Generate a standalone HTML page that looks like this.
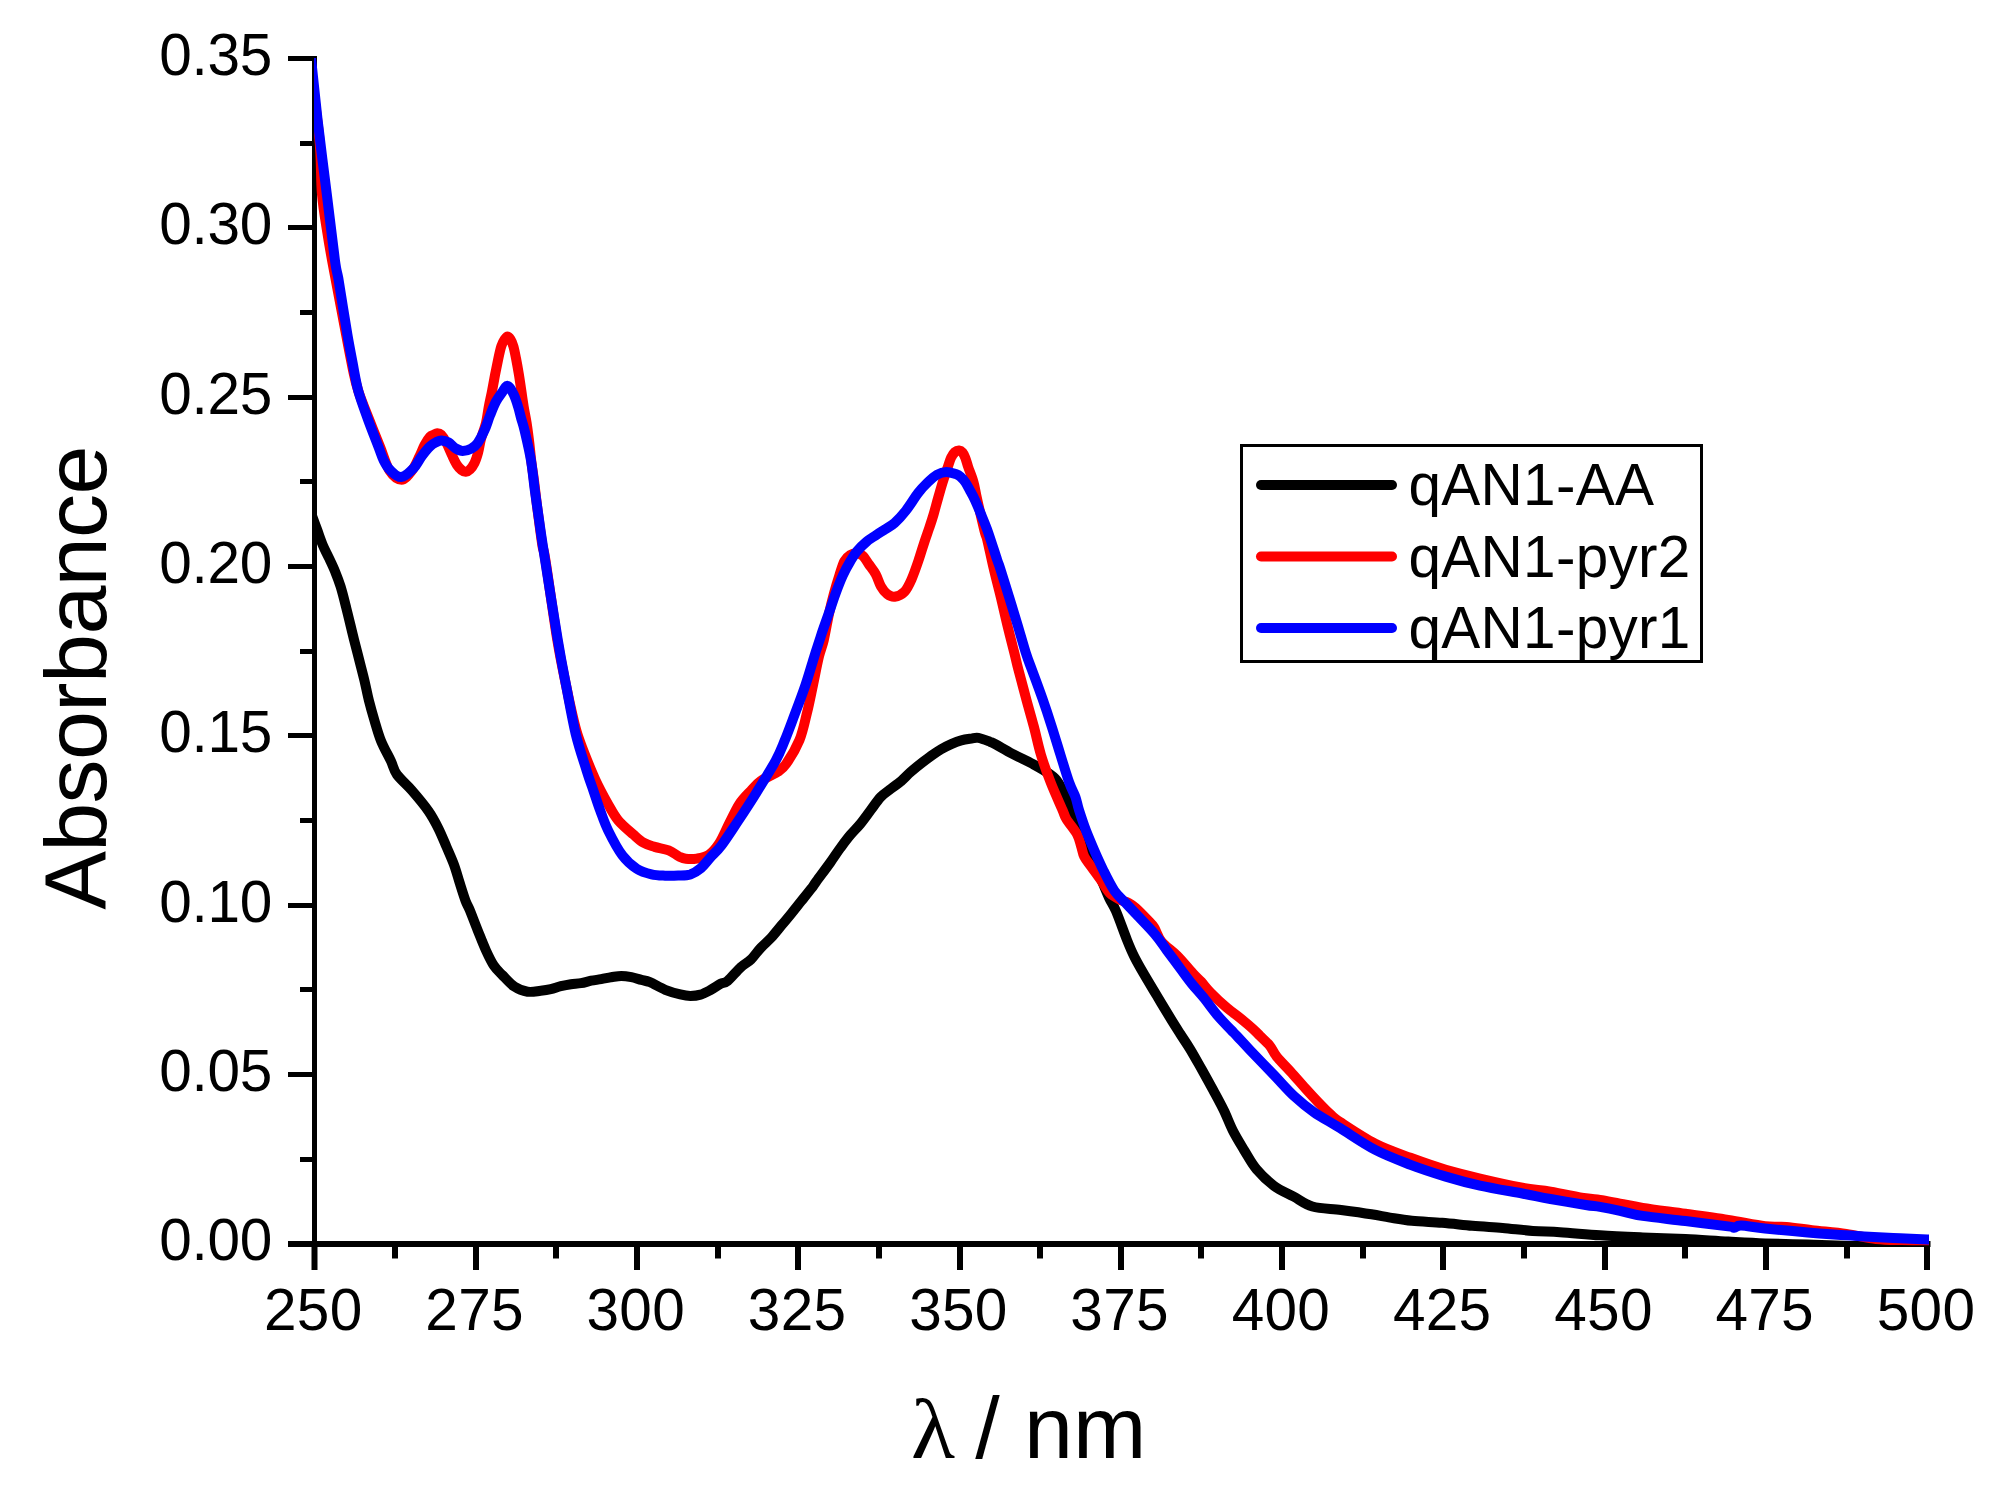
<!DOCTYPE html>
<html lang="en"><head><meta charset="utf-8"><title>Absorbance spectra</title>
<style>html,body{margin:0;padding:0;background:#fff;}body{width:1989px;height:1489px;overflow:hidden;}svg{display:block;}text{font-family:"Liberation Sans",sans-serif;fill:#000;}.tk{font-size:58.5px;letter-spacing:0.3px;}.tt{font-size:88px;}.lam{font-family:"Liberation Serif","DejaVu Serif",serif;}</style></head><body>
<svg width="1989" height="1489" viewBox="0 0 1989 1489">
<rect x="0" y="0" width="1989" height="1489" fill="#fff"/>
<defs><clipPath id="pc"><rect x="314" y="58" width="1615.0" height="1189.0"/></clipPath></defs>
<g stroke="#000" fill="none" stroke-linecap="butt">
<line x1="314.5" y1="56" x2="314.5" y2="1270" stroke-width="5"/>
<line x1="288" y1="1244.0" x2="1930.5" y2="1244.0" stroke-width="6"/>
<line x1="288.0" y1="1244.50" x2="314.5" y2="1244.50" stroke-width="5"/>
<line x1="300.0" y1="1159.50" x2="314.5" y2="1159.50" stroke-width="5"/>
<line x1="288.0" y1="1074.50" x2="314.5" y2="1074.50" stroke-width="5"/>
<line x1="300.0" y1="989.50" x2="314.5" y2="989.50" stroke-width="5"/>
<line x1="288.0" y1="905.50" x2="314.5" y2="905.50" stroke-width="5"/>
<line x1="300.0" y1="820.50" x2="314.5" y2="820.50" stroke-width="5"/>
<line x1="288.0" y1="735.50" x2="314.5" y2="735.50" stroke-width="5"/>
<line x1="300.0" y1="651.50" x2="314.5" y2="651.50" stroke-width="5"/>
<line x1="288.0" y1="566.50" x2="314.5" y2="566.50" stroke-width="5"/>
<line x1="300.0" y1="481.50" x2="314.5" y2="481.50" stroke-width="5"/>
<line x1="288.0" y1="397.50" x2="314.5" y2="397.50" stroke-width="5"/>
<line x1="300.0" y1="312.50" x2="314.5" y2="312.50" stroke-width="5"/>
<line x1="288.0" y1="227.50" x2="314.5" y2="227.50" stroke-width="5"/>
<line x1="300.0" y1="143.50" x2="314.5" y2="143.50" stroke-width="5"/>
<line x1="288.0" y1="58.50" x2="314.5" y2="58.50" stroke-width="5"/>
<line x1="314.50" y1="1244.0" x2="314.50" y2="1270.0" stroke-width="6"/>
<line x1="395.00" y1="1244.0" x2="395.00" y2="1258.5" stroke-width="6"/>
<line x1="476.00" y1="1244.0" x2="476.00" y2="1270.0" stroke-width="6"/>
<line x1="556.00" y1="1244.0" x2="556.00" y2="1258.5" stroke-width="6"/>
<line x1="637.00" y1="1244.0" x2="637.00" y2="1270.0" stroke-width="6"/>
<line x1="718.00" y1="1244.0" x2="718.00" y2="1258.5" stroke-width="6"/>
<line x1="798.00" y1="1244.0" x2="798.00" y2="1270.0" stroke-width="6"/>
<line x1="879.00" y1="1244.0" x2="879.00" y2="1258.5" stroke-width="6"/>
<line x1="960.00" y1="1244.0" x2="960.00" y2="1270.0" stroke-width="6"/>
<line x1="1040.00" y1="1244.0" x2="1040.00" y2="1258.5" stroke-width="6"/>
<line x1="1121.00" y1="1244.0" x2="1121.00" y2="1270.0" stroke-width="6"/>
<line x1="1201.00" y1="1244.0" x2="1201.00" y2="1258.5" stroke-width="6"/>
<line x1="1282.00" y1="1244.0" x2="1282.00" y2="1270.0" stroke-width="6"/>
<line x1="1363.00" y1="1244.0" x2="1363.00" y2="1258.5" stroke-width="6"/>
<line x1="1443.00" y1="1244.0" x2="1443.00" y2="1270.0" stroke-width="6"/>
<line x1="1524.00" y1="1244.0" x2="1524.00" y2="1258.5" stroke-width="6"/>
<line x1="1605.00" y1="1244.0" x2="1605.00" y2="1270.0" stroke-width="6"/>
<line x1="1685.00" y1="1244.0" x2="1685.00" y2="1258.5" stroke-width="6"/>
<line x1="1766.00" y1="1244.0" x2="1766.00" y2="1270.0" stroke-width="6"/>
<line x1="1847.00" y1="1244.0" x2="1847.00" y2="1258.5" stroke-width="6"/>
<line x1="1927.00" y1="1244.0" x2="1927.00" y2="1270.0" stroke-width="6"/>
</g>
<g clip-path="url(#pc)" fill="none" stroke-width="10" stroke-linejoin="round" stroke-linecap="round">
<path stroke="#000" d="M311.0 513.0C312.0 515.8 315.1 524.2 317.1 529.6C319.1 535.0 320.8 540.3 322.8 545.1C324.8 549.9 327.1 553.9 329.1 558.3C331.2 562.7 333.2 566.8 335.1 571.5C337.0 576.2 338.7 580.4 340.6 586.5C342.5 592.6 344.1 599.2 346.3 608.1C348.6 617.0 351.9 631.3 354.1 640.0C356.3 648.7 357.6 653.5 359.3 660.2C361.0 666.9 362.8 673.6 364.4 680.3C366.0 687.0 367.2 693.8 368.9 700.5C370.6 707.2 372.5 713.9 374.5 720.6C376.5 727.3 378.3 734.1 381.0 740.8C383.7 747.5 388.2 755.3 390.9 760.9C393.5 766.5 393.4 769.6 396.9 774.5C400.4 779.4 406.5 784.2 411.7 790.2C416.9 796.2 423.9 804.4 428.3 810.8C432.8 817.2 435.4 822.4 438.4 828.4C441.4 834.4 443.8 840.5 446.4 846.6C449.0 852.7 451.8 858.8 454.0 864.7C456.2 870.7 457.6 876.2 459.5 882.3C461.4 888.3 463.9 896.4 465.6 901.0C467.3 905.6 467.8 905.3 469.8 910.2C471.8 915.1 475.0 923.6 477.7 930.3C480.4 937.0 483.3 944.6 486.0 950.5C488.7 956.4 491.1 961.5 493.8 965.6C496.5 969.7 498.9 971.6 502.4 975.1C505.8 978.6 510.3 983.9 514.5 986.7C518.7 989.5 523.2 991.0 527.6 991.7C532.0 992.4 536.8 991.2 540.7 990.8C544.6 990.4 547.4 990.0 550.8 989.2C554.1 988.4 557.4 987.0 560.8 986.2C564.1 985.4 567.5 984.7 570.9 984.2C574.3 983.7 577.6 983.8 581.0 983.2C584.4 982.6 587.8 981.4 591.1 980.7C594.5 980.0 597.8 979.8 601.1 979.2C604.5 978.6 607.8 977.8 611.2 977.2C614.6 976.7 617.9 975.9 621.3 975.9C624.7 975.9 628.0 976.5 631.4 977.2C634.8 977.9 638.3 979.1 641.4 979.9C644.5 980.7 646.0 980.6 650.0 982.2C654.0 983.9 660.2 987.8 665.2 989.8C670.2 991.8 676.1 993.4 680.3 994.4C684.5 995.4 687.0 995.9 690.4 995.9C693.8 995.9 697.1 995.6 700.5 994.6C703.9 993.6 707.1 991.8 710.5 990.0C713.9 988.2 717.7 985.3 720.6 983.8C723.5 982.3 724.3 983.6 727.7 980.8C731.1 978.0 736.9 970.7 740.8 967.2C744.6 963.7 747.4 962.9 750.8 959.6C754.1 956.4 757.5 951.3 760.9 947.7C764.3 944.1 767.6 941.5 771.0 937.9C774.4 934.2 777.8 929.8 781.1 925.8C784.5 921.8 787.8 917.9 791.1 913.8C794.5 909.7 797.8 905.4 801.2 901.2C804.6 897.0 808.8 891.9 811.3 888.6C813.8 885.3 813.1 885.9 816.3 881.5C819.5 877.1 826.3 868.1 830.3 862.5C834.3 856.9 837.0 852.5 840.4 847.9C843.8 843.3 847.1 838.8 850.5 834.8C853.9 830.8 857.1 827.8 860.5 823.7C863.9 819.6 867.2 814.8 870.6 810.3C874.0 805.8 877.3 800.6 880.7 797.0C884.1 793.4 887.4 791.5 890.8 788.9C894.1 786.3 897.4 784.2 900.8 781.4C904.1 778.5 907.5 774.8 910.9 771.8C914.3 768.8 917.6 766.1 921.0 763.5C924.4 760.9 927.8 758.3 931.1 755.9C934.5 753.5 937.8 751.3 941.1 749.3C944.5 747.3 947.8 745.6 951.2 744.1C954.6 742.6 957.9 741.2 961.3 740.3C964.7 739.4 968.5 739.0 971.4 738.6C974.2 738.2 975.3 737.4 978.4 737.9C981.5 738.4 987.1 740.7 990.0 741.8C992.9 742.9 992.2 742.5 995.9 744.5C999.6 746.5 1006.0 750.4 1012.0 753.6C1018.0 756.8 1026.7 760.8 1032.2 763.7C1037.7 766.6 1041.0 768.3 1045.0 771.0C1049.0 773.7 1052.9 775.7 1056.4 780.0C1059.9 784.3 1063.5 791.9 1065.8 796.9C1068.1 801.9 1067.1 802.0 1070.5 810.0C1073.9 818.0 1080.8 833.2 1086.0 845.0C1091.2 856.8 1098.0 871.9 1101.8 880.7C1105.6 889.5 1106.8 892.8 1109.1 897.8C1111.4 902.8 1112.9 903.9 1115.9 910.9C1118.9 917.9 1123.9 932.2 1127.0 940.0C1130.1 947.8 1131.7 951.6 1134.7 957.5C1137.7 963.4 1141.1 969.2 1144.8 975.6C1148.5 982.0 1152.9 989.1 1156.9 995.8C1160.9 1002.5 1165.2 1009.6 1169.0 1015.9C1172.8 1022.2 1176.5 1028.0 1180.0 1033.5C1183.5 1039.0 1186.4 1043.0 1190.1 1049.1C1193.8 1055.2 1198.2 1063.2 1202.1 1070.0C1205.9 1076.8 1209.6 1083.5 1213.2 1090.2C1216.8 1096.9 1220.5 1103.6 1223.8 1110.3C1227.1 1117.0 1229.4 1123.8 1232.8 1130.5C1236.2 1137.2 1240.5 1144.1 1244.4 1150.6C1248.4 1157.0 1251.5 1163.3 1256.5 1169.2C1261.5 1175.1 1268.0 1181.4 1274.1 1185.9C1280.2 1190.4 1286.9 1193.0 1293.3 1196.4C1299.7 1199.8 1304.4 1204.2 1312.4 1206.5C1320.4 1208.8 1331.3 1208.7 1341.1 1210.0C1350.9 1211.3 1363.2 1213.0 1371.4 1214.3C1379.6 1215.6 1383.2 1216.5 1390.0 1217.6C1396.8 1218.7 1403.2 1219.9 1411.9 1220.8C1420.6 1221.7 1432.0 1222.0 1442.1 1222.8C1452.2 1223.6 1462.2 1224.9 1472.3 1225.8C1482.4 1226.7 1492.5 1227.1 1502.6 1227.9C1512.7 1228.8 1523.2 1230.2 1532.8 1230.9C1542.4 1231.6 1548.8 1231.5 1560.0 1232.2C1571.2 1232.9 1586.2 1234.4 1600.0 1235.3C1613.8 1236.2 1628.5 1236.8 1642.7 1237.4C1657.0 1238.0 1671.2 1238.4 1685.5 1239.1C1699.8 1239.8 1715.0 1240.9 1728.2 1241.6C1741.5 1242.3 1751.8 1242.9 1765.0 1243.4C1778.2 1243.9 1793.5 1244.2 1807.7 1244.6C1822.0 1245.0 1829.3 1245.6 1850.5 1245.9C1871.7 1246.2 1920.9 1246.4 1935.0 1246.5"/>
<path stroke="#f00" d="M306.5 40.0C308.6 56.0 316.5 110.4 319.1 136.0C321.7 161.6 320.5 177.2 321.9 193.4C323.3 209.6 325.7 221.9 327.4 233.0C329.1 244.1 329.5 246.4 332.0 260.0C334.5 273.6 338.8 296.0 342.3 314.5C345.8 333.0 350.5 358.1 353.2 370.9C355.9 383.6 355.7 382.9 358.3 391.0C360.9 399.1 365.3 409.8 369.0 419.2C372.7 428.6 376.9 438.8 380.3 447.4C383.7 455.9 386.0 465.1 389.5 470.5C393.0 475.9 397.8 479.7 401.5 479.7C405.2 479.7 409.0 474.4 412.0 470.5C415.0 466.6 417.4 460.4 419.5 456.2C421.6 452.0 422.8 448.3 424.5 445.1C426.2 441.9 428.3 438.6 429.9 436.8C431.5 435.0 433.0 435.1 434.2 434.5C435.4 433.9 435.9 433.2 437.0 433.2C438.1 433.2 439.5 433.0 441.0 434.5C442.5 436.0 444.2 438.6 446.0 442.0C447.8 445.4 450.1 451.1 451.9 454.9C453.7 458.7 455.4 462.5 457.0 465.0C458.6 467.5 460.1 468.9 461.5 470.0C462.9 471.1 464.3 471.9 465.7 471.8C467.1 471.7 468.5 471.0 470.0 469.5C471.5 468.0 473.1 465.8 474.5 463.0C475.9 460.2 477.0 456.6 478.1 452.7C479.2 448.8 479.6 444.3 480.9 439.3C482.2 434.3 484.7 428.2 486.0 422.8C487.3 417.4 487.8 412.1 488.8 406.7C489.8 401.3 491.1 396.0 492.1 390.6C493.2 385.2 494.1 379.9 495.1 374.5C496.2 369.1 497.4 363.0 498.4 358.3C499.4 353.6 500.3 349.4 501.3 346.3C502.3 343.2 503.4 341.1 504.5 339.5C505.6 337.9 506.6 336.5 507.6 336.5C508.6 336.5 509.5 337.9 510.5 339.5C511.5 341.1 512.5 343.2 513.4 346.3C514.3 349.4 515.1 353.6 516.0 358.3C516.9 363.0 518.0 369.1 518.9 374.5C519.8 379.9 520.5 385.2 521.3 390.6C522.1 396.0 522.8 401.3 523.7 406.7C524.6 412.1 525.7 417.2 526.6 422.8C527.5 428.4 528.2 434.0 529.0 440.3C529.8 446.6 530.4 453.8 531.2 460.5C532.0 467.2 533.1 473.9 534.0 480.6C534.9 487.3 535.6 494.1 536.4 500.8C537.2 507.5 538.0 513.4 539.0 520.9C540.0 528.4 541.4 539.5 542.5 546.1C543.6 552.7 543.0 545.0 545.5 560.6C548.0 576.2 553.8 618.9 557.3 640.0C560.8 661.1 563.9 674.5 566.4 687.0C568.9 699.5 570.7 707.4 572.5 715.2C574.3 723.0 575.4 727.7 577.4 734.0C579.4 740.3 581.2 745.1 584.2 752.8C587.2 760.5 591.5 771.4 595.5 780.0C599.5 788.6 604.4 797.6 608.2 804.4C612.0 811.1 614.1 815.5 618.3 820.5C622.5 825.5 629.2 830.9 633.4 834.6C637.6 838.3 640.0 840.7 643.5 842.7C647.0 844.8 650.4 845.6 654.6 846.9C658.8 848.2 664.6 848.7 668.7 850.3C672.8 851.9 676.4 855.2 679.2 856.6C682.1 858.0 682.8 858.5 685.8 858.8C688.8 859.1 693.1 859.2 696.9 858.6C700.7 858.0 705.1 857.4 708.8 854.9C712.5 852.4 715.6 848.9 719.1 843.6C722.6 838.3 726.1 829.5 729.5 822.9C732.9 816.3 735.9 809.4 739.4 804.0C742.9 798.6 747.3 794.6 750.8 790.8C754.3 787.0 756.1 784.1 760.6 781.0C765.1 777.9 773.2 774.8 777.5 771.9C781.8 769.0 782.6 769.0 786.3 763.7C790.0 758.4 796.0 748.5 799.5 740.0C803.0 731.5 804.7 722.0 807.0 712.8C809.3 703.6 811.1 694.0 813.1 684.6C815.1 675.2 817.2 663.8 819.0 656.4C820.8 649.0 822.1 647.3 823.8 640.0C825.5 632.7 827.5 620.5 829.2 612.8C830.9 605.1 832.1 600.3 833.8 594.0C835.5 587.7 837.6 580.7 839.4 575.2C841.2 569.7 842.6 564.5 844.4 561.1C846.2 557.7 848.4 556.3 850.4 555.0C852.4 553.7 854.5 553.4 856.5 553.5C858.5 553.6 860.6 554.0 862.7 555.8C864.8 557.6 866.8 561.4 869.0 564.5C871.2 567.6 873.8 570.6 875.8 574.3C877.8 578.0 879.1 583.2 881.0 586.5C882.9 589.8 884.8 592.3 887.1 594.0C889.4 595.7 891.7 597.1 894.6 596.7C897.5 596.3 901.7 594.6 904.5 591.7C907.3 588.8 909.2 584.6 911.5 579.4C913.8 574.2 916.4 566.7 918.5 560.5C920.6 554.3 922.5 547.7 924.3 542.3C926.1 536.9 927.6 532.7 929.2 528.0C930.8 523.3 932.2 519.2 933.7 514.0C935.2 508.8 936.8 502.5 938.4 497.0C940.0 491.5 941.5 486.1 943.1 481.1C944.7 476.1 946.5 470.9 947.8 467.0C949.1 463.1 949.9 460.1 951.1 457.6C952.3 455.1 953.7 453.2 955.0 452.0C956.3 450.8 957.9 450.3 959.1 450.4C960.4 450.5 961.5 451.3 962.5 452.5C963.5 453.7 964.2 455.2 965.2 457.6C966.2 460.0 966.9 463.1 968.2 467.0C969.5 470.9 971.9 476.4 973.2 481.1C974.6 485.8 975.1 489.7 976.3 495.2C977.5 500.7 979.0 507.7 980.5 514.0C982.0 520.3 983.9 528.5 985.0 532.8C986.1 537.1 985.9 534.1 987.3 540.0C988.7 545.9 991.4 558.8 993.6 568.2C995.8 577.6 998.3 587.0 1000.6 596.4C1002.9 605.8 1004.9 615.2 1007.2 624.6C1009.5 634.0 1012.4 645.2 1014.3 652.8C1016.2 660.4 1016.5 662.4 1018.5 670.0C1020.5 677.6 1023.5 688.8 1026.0 698.2C1028.5 707.6 1031.3 717.0 1033.8 726.4C1036.3 735.8 1038.1 745.2 1040.9 754.6C1043.7 764.0 1047.2 773.6 1050.8 782.8C1054.4 792.0 1059.9 803.9 1062.5 810.0C1065.1 816.1 1064.1 815.2 1066.5 819.2C1068.9 823.2 1074.6 829.8 1077.1 834.3C1079.5 838.8 1080.0 842.7 1081.2 846.4C1082.4 850.1 1082.5 853.1 1084.2 856.5C1085.9 859.9 1088.4 862.6 1091.2 866.6C1094.0 870.6 1098.2 876.2 1101.3 880.7C1104.4 885.2 1106.7 890.1 1109.9 893.3C1113.2 896.5 1117.7 898.4 1120.8 900.0C1123.9 901.6 1126.0 901.5 1128.4 902.8C1130.8 904.1 1132.3 904.9 1135.4 907.7C1138.5 910.5 1144.1 916.2 1147.2 919.5C1150.3 922.8 1151.8 923.8 1154.2 927.5C1156.6 931.2 1157.7 936.9 1161.5 941.6C1165.3 946.3 1171.7 950.2 1177.0 955.5C1182.3 960.8 1189.1 969.2 1193.1 973.6C1197.1 978.0 1198.3 978.5 1201.2 981.7C1204.1 984.9 1206.4 988.4 1210.7 992.7C1215.0 997.1 1222.0 1003.6 1226.9 1007.8C1231.8 1012.0 1235.6 1014.4 1239.9 1017.9C1244.2 1021.4 1249.6 1025.9 1253.0 1028.9C1256.4 1031.9 1257.3 1033.2 1260.1 1036.0C1262.9 1038.8 1266.9 1042.2 1269.7 1045.6C1272.5 1049.0 1273.3 1052.3 1276.7 1056.6C1280.1 1060.9 1285.5 1066.0 1290.3 1071.3C1295.1 1076.6 1300.9 1083.4 1305.4 1088.4C1309.9 1093.4 1313.4 1097.2 1317.5 1101.5C1321.6 1105.8 1326.3 1110.7 1330.1 1114.1C1333.8 1117.5 1332.5 1117.1 1340.0 1122.0C1347.5 1126.9 1363.5 1137.7 1375.3 1143.7C1387.0 1149.7 1398.8 1153.5 1410.5 1157.8C1422.2 1162.1 1434.2 1166.3 1445.8 1169.8C1457.4 1173.2 1467.2 1175.5 1480.0 1178.5C1492.8 1181.5 1510.5 1185.5 1522.3 1187.7C1534.0 1189.9 1539.9 1189.8 1550.5 1191.6C1561.1 1193.4 1577.5 1196.9 1585.8 1198.3C1594.0 1199.7 1594.3 1199.0 1600.0 1199.9C1605.7 1200.8 1612.9 1202.3 1620.0 1203.6C1627.1 1204.9 1631.8 1206.2 1642.7 1207.9C1653.6 1209.6 1671.2 1211.8 1685.5 1213.8C1699.8 1215.8 1715.0 1217.9 1728.2 1220.0C1741.5 1222.1 1755.3 1225.1 1765.0 1226.3C1774.7 1227.5 1778.6 1226.3 1786.4 1226.9C1794.2 1227.5 1802.0 1228.9 1812.0 1230.1C1822.0 1231.3 1835.5 1232.4 1846.2 1233.9C1856.9 1235.4 1866.8 1238.0 1876.1 1239.0C1885.4 1240.0 1893.4 1239.9 1901.8 1240.1C1910.2 1240.3 1921.0 1240.2 1926.5 1240.3C1932.0 1240.3 1933.6 1240.4 1935.0 1240.4"/>
<path stroke="#00f" d="M299.0 -50.0C300.0 -41.0 303.0 -14.0 305.0 4.0C307.0 22.0 308.9 38.7 311.0 58.0C313.1 77.3 315.0 97.4 317.6 120.0C320.2 142.6 323.8 170.1 326.7 193.4C329.6 216.7 333.0 245.9 334.9 260.0C336.8 274.1 337.0 270.5 338.3 278.2C339.6 285.9 341.3 297.0 342.8 306.4C344.3 315.8 345.8 325.2 347.4 334.6C349.0 344.0 350.8 353.4 352.6 362.8C354.4 372.2 355.8 381.6 358.3 391.0C360.9 400.4 364.5 409.8 367.9 419.2C371.3 428.6 376.1 440.6 378.7 447.4C381.3 454.2 381.7 456.4 383.6 460.2C385.5 464.0 387.3 467.4 390.2 470.2C393.1 473.0 397.3 477.4 401.2 477.1C405.1 476.8 409.9 472.0 413.3 468.5C416.8 465.0 419.1 459.6 421.9 455.9C424.7 452.2 427.6 448.6 430.0 446.3C432.4 444.0 434.6 443.0 436.5 442.0C438.4 441.0 439.5 440.3 441.5 440.4C443.5 440.5 446.2 441.2 448.6 442.5C451.0 443.8 453.2 447.0 455.6 448.4C458.0 449.8 460.1 450.9 462.7 450.9C465.3 450.9 468.8 450.0 471.3 448.6C473.8 447.2 475.6 445.9 477.8 442.8C480.0 439.7 482.6 434.7 484.6 430.1C486.6 425.6 488.1 420.2 490.0 415.5C491.9 410.8 493.8 405.7 495.8 401.9C497.8 398.1 500.0 395.2 502.0 392.5C504.0 389.8 505.6 385.5 507.6 385.9C509.6 386.2 512.0 391.1 513.8 394.6C515.5 398.1 516.9 402.7 518.1 406.7C519.4 410.7 520.2 414.9 521.3 418.8C522.4 422.7 522.9 423.2 524.5 430.2C526.1 437.1 529.3 450.4 531.0 460.5C532.7 470.6 533.5 480.6 534.9 490.7C536.3 500.8 537.8 511.0 539.2 520.9C540.6 530.8 540.4 530.1 543.5 550.0C546.6 569.9 554.0 617.2 557.8 640.0C561.6 662.8 563.4 671.3 566.4 687.0C569.4 702.7 572.4 720.1 575.7 734.0C579.1 747.9 583.6 760.8 586.5 770.2C589.4 779.6 591.0 783.6 593.3 790.3C595.6 797.0 597.7 803.8 600.2 810.5C602.7 817.2 604.5 823.1 608.2 830.6C611.9 838.1 617.5 848.9 622.3 855.3C627.1 861.7 632.0 865.7 636.9 868.9C641.8 872.1 646.8 873.3 651.5 874.4C656.2 875.5 660.6 875.5 665.1 875.7C669.6 875.9 674.0 875.8 678.2 875.6C682.4 875.4 686.5 875.6 690.3 874.4C694.1 873.1 697.5 871.0 700.9 868.1C704.3 865.2 707.0 861.1 710.5 857.3C714.0 853.5 717.1 851.2 721.6 845.2C726.1 839.2 731.9 830.2 737.7 821.5C743.5 812.8 750.0 802.9 756.3 792.8C762.6 782.6 770.9 769.4 775.7 760.6C780.5 751.8 781.6 748.0 784.9 740.0C788.2 732.0 791.8 722.0 795.3 712.8C798.8 703.6 802.4 694.0 805.6 684.6C808.8 675.2 812.0 663.8 814.3 656.4C816.6 649.0 818.1 644.7 819.6 640.0C821.1 635.3 821.9 632.7 823.5 628.2C825.1 623.7 827.0 618.5 829.0 612.8C831.0 607.1 833.1 600.3 835.4 594.0C837.7 587.7 840.4 580.7 842.9 575.2C845.4 569.7 848.0 565.1 850.4 561.1C852.8 557.1 854.3 554.4 857.0 551.2C859.7 548.0 863.3 544.4 866.4 541.8C869.5 539.1 872.7 537.4 875.8 535.3C878.9 533.2 882.1 531.3 885.2 529.3C888.3 527.2 891.1 526.1 894.6 523.0C898.1 519.9 902.1 515.5 906.0 510.5C909.9 505.5 914.6 497.6 918.2 492.9C921.8 488.2 924.5 485.5 927.6 482.5C930.7 479.5 933.9 476.5 937.0 474.7C940.1 472.9 943.3 472.0 946.4 471.9C949.5 471.8 953.4 473.3 955.8 474.1C958.1 474.9 958.9 475.4 960.5 476.8C962.1 478.2 963.9 480.2 965.5 482.5C967.1 484.8 968.4 487.6 970.0 490.5C971.6 493.4 973.2 496.2 975.0 500.1C976.8 504.0 978.7 508.6 980.9 514.0C983.1 519.5 985.6 525.1 988.3 532.8C991.0 540.5 995.2 554.1 997.2 560.0C999.2 565.9 998.2 562.1 1000.1 568.2C1002.0 574.3 1006.0 587.0 1008.9 596.4C1011.8 605.8 1014.7 615.2 1017.5 624.6C1020.3 634.0 1023.4 645.2 1025.8 652.8C1028.2 660.4 1029.2 662.4 1032.0 670.0C1034.8 677.6 1039.0 688.8 1042.3 698.2C1045.6 707.6 1048.7 717.0 1051.7 726.4C1054.7 735.8 1057.5 745.2 1060.4 754.6C1063.3 764.0 1066.8 775.8 1069.3 782.8C1071.8 789.8 1073.8 792.4 1075.4 796.9C1077.0 801.4 1077.2 804.4 1079.0 810.0C1080.8 815.6 1083.4 823.5 1085.9 830.3C1088.5 837.0 1091.4 843.8 1094.3 850.5C1097.2 857.2 1100.2 863.9 1103.5 870.6C1106.8 877.3 1110.8 885.5 1114.4 890.8C1118.0 896.1 1121.5 898.6 1125.0 902.3C1128.5 906.0 1130.1 907.7 1135.1 913.0C1140.0 918.3 1149.4 927.8 1154.7 934.0C1160.0 940.2 1162.5 944.5 1166.9 950.4C1171.3 956.3 1176.9 964.0 1181.1 969.6C1185.3 975.2 1188.2 979.3 1192.0 984.0C1195.8 988.7 1199.4 992.4 1203.7 997.7C1208.0 1003.0 1213.3 1010.5 1217.8 1015.8C1222.3 1021.1 1227.7 1026.3 1230.9 1029.7C1234.1 1033.1 1233.7 1032.6 1236.9 1036.0C1240.1 1039.4 1243.8 1043.5 1250.0 1050.1C1256.2 1056.6 1266.8 1067.6 1274.2 1075.3C1281.6 1083.0 1287.8 1090.3 1294.4 1096.4C1301.0 1102.5 1306.2 1106.8 1313.8 1112.1C1321.4 1117.4 1329.8 1121.8 1340.0 1128.1C1350.2 1134.4 1363.5 1143.8 1375.3 1149.9C1387.0 1156.0 1398.8 1160.3 1410.5 1164.8C1422.2 1169.2 1434.2 1173.1 1445.8 1176.6C1457.4 1180.1 1467.2 1182.8 1480.0 1185.6C1492.8 1188.4 1510.5 1191.3 1522.3 1193.5C1534.0 1195.7 1539.9 1197.1 1550.5 1199.0C1561.1 1200.9 1577.5 1203.7 1585.8 1205.0C1594.0 1206.3 1594.3 1205.9 1600.0 1206.9C1605.7 1207.9 1612.9 1209.3 1620.0 1210.8C1627.1 1212.3 1631.8 1214.2 1642.7 1215.9C1653.6 1217.6 1671.2 1219.2 1685.5 1221.0C1699.8 1222.8 1720.1 1225.3 1728.2 1226.4C1736.3 1227.5 1732.1 1227.8 1734.2 1227.7C1736.3 1227.6 1735.9 1225.5 1741.0 1225.6C1746.1 1225.7 1753.9 1227.4 1765.0 1228.5C1776.1 1229.6 1793.5 1231.2 1807.7 1232.4C1822.0 1233.6 1836.2 1234.7 1850.5 1235.6C1864.8 1236.5 1880.4 1237.3 1893.2 1237.9C1906.0 1238.5 1920.4 1239.1 1927.4 1239.4C1934.4 1239.7 1933.7 1239.7 1935.0 1239.7"/>
</g>
<g class="tk" text-anchor="end" style="letter-spacing:-0.3px">
<text x="272" y="1260.3">0.00</text>
<text x="272" y="1090.9">0.05</text>
<text x="272" y="921.6">0.10</text>
<text x="272" y="752.2">0.15</text>
<text x="272" y="582.9">0.20</text>
<text x="272" y="413.5">0.25</text>
<text x="272" y="244.1">0.30</text>
<text x="272" y="74.8">0.35</text>
</g>
<g class="tk" text-anchor="middle">
<text x="313.3" y="1330">250</text>
<text x="474.6" y="1330">275</text>
<text x="635.8" y="1330">300</text>
<text x="797.1" y="1330">325</text>
<text x="958.4" y="1330">350</text>
<text x="1119.6" y="1330">375</text>
<text x="1280.9" y="1330">400</text>
<text x="1442.2" y="1330">425</text>
<text x="1603.5" y="1330">450</text>
<text x="1764.7" y="1330">475</text>
<text x="1926.0" y="1330">500</text>
</g>
<text class="tt" text-anchor="middle" style="letter-spacing:-0.6px" transform="translate(105.8,678) rotate(-90)">Absorbance</text>
<text class="lam" style="font-size:84px" transform="translate(911,1457.5) scale(1.08,1)">λ</text>
<text class="tt" x="975.2" y="1457.5">/ nm</text>
<rect x="1241.5" y="445.5" width="460" height="216" fill="#fff" stroke="#000" stroke-width="3"/>
<g stroke-width="10" stroke-linecap="round" fill="none">
<line x1="1261" y1="485" x2="1392" y2="485" stroke="#000"/>
<line x1="1261" y1="556.5" x2="1392" y2="556.5" stroke="#f00"/>
<line x1="1261" y1="628" x2="1392" y2="628" stroke="#00f"/>
</g>
<g class="tk">
<text x="1408.4" y="505">qAN1-AA</text>
<text x="1408.4" y="577">qAN1-pyr2</text>
<text x="1408.4" y="647.5">qAN1-pyr1</text>
</g>
</svg></body></html>
